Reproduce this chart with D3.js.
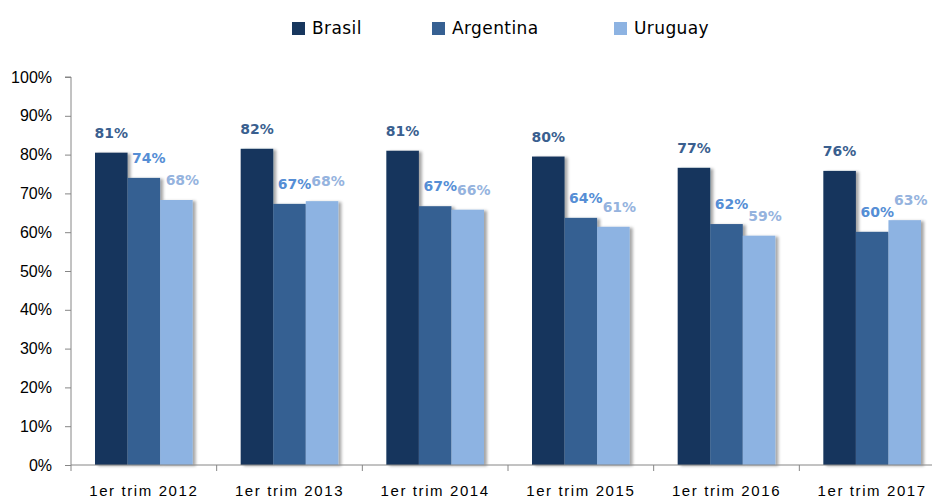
<!DOCTYPE html>
<html>
<head>
<meta charset="utf-8">
<script src="https://cdn.jsdelivr.net/npm/d3@7/dist/d3.min.js"></script>
<style>
  body { margin: 0; background: #fff; }
  svg { display: block; font-family: "DejaVu Sans", sans-serif; }
</style>
</head>
<body>
<script>
// chart data
var categories = ["1er trim 2012", "1er trim 2013", "1er trim 2014", "1er trim 2015", "1er trim 2016", "1er trim 2017"];
var seriesNames = ["Brasil", "Argentina", "Uruguay"];
var brasil = [80.5, 81.5, 81, 79.5, 76.6, 75.8];
var argentina = [74, 67.3, 66.7, 63.7, 62.1, 60.1];
var uruguay = [68.3, 68, 65.8, 61.4, 59.1, 63.1];
var yTicks = [0, 10, 20, 30, 40, 50, 60, 70, 80, 90, 100];

// dimensions
var width = 932;
var height = 498;
var plotLeft = 71;
var plotBottom = 465;
var plotTop = 77;
var plotRight = 945;

var barColors = ["#17365d", "#366092", "#8db3e2"];
var labelColors = ["#3a5f8f", "#558ed5", "#95b3de"];
var labelShift = [0, 5, 6];

var values = [brasil, argentina, uruguay];

var svg = d3.select("body")
  .append("svg")
  .attr("width", width)
  .attr("height", height);

// shadow behind the bars
var filter = svg.append("defs").append("filter")
  .attr("id", "shadow")
  .attr("x", "-20%").attr("y", "-10%")
  .attr("width", "150%").attr("height", "120%");
filter.append("feDropShadow")
  .attr("dx", 3).attr("dy", 1)
  .attr("stdDeviation", 1.5)
  .attr("flood-color", "#000")
  .attr("flood-opacity", 0.35);

// scales
var xScale = d3.scaleBand()
  .domain(categories)
  .range([plotLeft, plotRight]);

var groupPad = 24;
var xInner = d3.scaleBand()
  .domain(seriesNames)
  .range([0, xScale.bandwidth() - 2 * groupPad]);

var yScale = d3.scaleLinear()
  .domain([0, 100])
  .range([plotBottom, plotTop]);

// y axis
var yAxis = d3.axisLeft(yScale)
  .tickValues(yTicks)
  .tickSize(6)
  .tickPadding(13)
  .tickFormat(function(d) { return d + "%"; });

var gy = svg.append("g")
  .attr("transform", "translate(" + [plotLeft, 0] + ")")
  .call(yAxis);
gy.select(".domain").attr("stroke", "#868686").attr("d", "M-6," + plotTop + "H0V" + plotBottom);
gy.selectAll(".tick line").attr("stroke", "#868686");
gy.selectAll(".tick text")
  .attr("fill", "#000")
  .style("font-size", "16px");

// bars
var groups = svg.selectAll(".group")
  .data(categories)
  .enter()
  .append("g")
  .attr("class", "group")
  .attr("transform", function(d) { return "translate(" + (xScale(d) + groupPad) + ",0)"; });

seriesNames.forEach(function(name, s) {
  groups.append("rect")
    .attr("x", function(d, i) { return xInner(name); })
    .attr("y", function(d, i) { return yScale(values[s][i]); })
    .attr("width", xInner.bandwidth())
    .attr("height", function(d, i) { return plotBottom - yScale(values[s][i]); })
    .attr("fill", barColors[s])
    .attr("filter", "url(#shadow)");
});

// value labels
seriesNames.forEach(function(name, s) {
  groups.append("text")
    .attr("x", function(d, i) { return xInner(name) + xInner.bandwidth() / 2 + labelShift[s]; })
    .attr("y", function(d, i) { return yScale(values[s][i]) - 15; })
    .attr("text-anchor", "middle")
    .attr("fill", labelColors[s])
    .style("font-size", "14px")
    .style("font-weight", "bold")
    .text(function(d, i) { return Math.round(values[s][i]) + "%"; });
});

// x axis
var xAxis = d3.axisBottom(xScale)
  .tickSize(0)
  .tickPadding(20);

var gx = svg.append("g")
  .attr("transform", "translate(" + [0, plotBottom] + ")")
  .call(xAxis);
gx.select(".domain").attr("stroke", "#868686").attr("d", "M" + plotLeft + ",0H" + plotRight);
gx.selectAll(".tick text")
  .attr("fill", "#000")
  .style("font-size", "15px")
  .style("letter-spacing", "1.6px");

// category separators
svg.selectAll(".sep")
  .data(categories)
  .enter()
  .append("line")
  .attr("x1", function(d) { return xScale(d); })
  .attr("x2", function(d) { return xScale(d); })
  .attr("y1", plotBottom)
  .attr("y2", plotBottom + 6)
  .attr("stroke", "#868686");

// legend
var legendX = [292, 432, 614];
var legend = svg.selectAll(".legend")
  .data(seriesNames)
  .enter()
  .append("g")
  .attr("class", "legend")
  .attr("transform", function(d, i) { return "translate(" + legendX[i] + ",22)"; });

legend.append("rect")
  .attr("width", 13)
  .attr("height", 13)
  .attr("fill", function(d, i) { return barColors[i]; });

legend.append("text")
  .attr("x", 20)
  .attr("y", 12)
  .style("font-size", "17px")
  .style("letter-spacing", "0.4px")
  .text(function(d) { return d; });
</script>
</body>
</html>
